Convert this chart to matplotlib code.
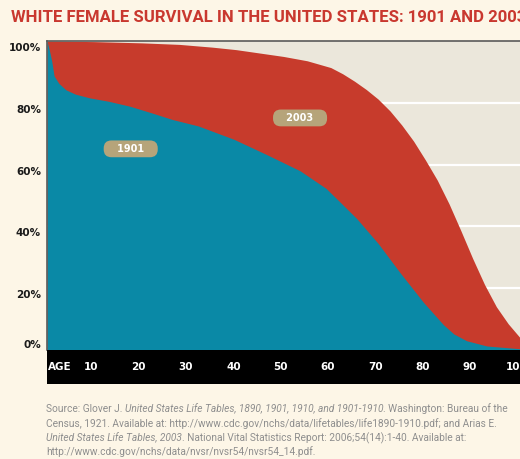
import matplotlib
matplotlib.use('Agg')
import matplotlib.pyplot as plt
from matplotlib.transforms import blended_transform_factory, ScaledTranslation

# ---------------- data ----------------
ages_1901 = [0, 0.5, 1, 1.5, 2.5, 4, 6, 9, 13, 17.5, 22, 26.5, 32, 39.5, 46.5, 53.5,
             59, 62, 65.5, 70, 74.6, 79.6, 83.8, 86, 88.7, 93, 100]
surv_1901 = [100, 97, 93.5, 88.7, 86.3, 84.2, 82.8, 81.6, 80.5, 78.9, 76.8, 74.6, 72.5, 68.2, 63.2, 58,
             52.3, 47.8, 42.5, 34.5, 25.1, 15.4, 8.2, 5.2, 3.0, 1.3, 0.4]

ages_2003 = [0, 10, 20, 28, 35, 40, 45, 50, 55, 60, 62.5, 65, 67.5, 70, 72.5, 75, 77.5, 80, 82.5,
             85, 87.5, 90, 92.5, 95, 97.5, 100]
surv_2003 = [100, 99.8, 99.4, 98.9, 98, 97.2, 96.1, 95, 93.6, 91.4, 89.4, 87, 84.3, 81.2, 77.4, 72.8,
             67.6, 61.5, 55, 47.3, 38.6, 29.6, 21.2, 14, 8.5, 4]

age_ticks = [10, 20, 30, 40, 50, 60, 70, 80, 90, 100]
pct_ticks = [0, 20, 40, 60, 80, 100]
pct_labels = ['0%', '20%', '40%', '60%', '80%', '100%']
grid_levels = [20, 40, 60, 80]
series_names = ['1901', '2003']
label_positions = [(17.7, 65.1), (53.5, 75.1)]

title = 'WHITE FEMALE SURVIVAL IN THE UNITED STATES: 1901 AND 2003'
source_lines = [
    [('Source: Glover J. ', 'normal'),
     ('United States Life Tables, 1890, 1901, 1910, and 1901-1910', 'italic'),
     ('. Washington: Bureau of the', 'normal')],
    [('Census, 1921. Available at: http://www.cdc.gov/nchs/data/lifetables/life1890-1910.pdf; and Arias E.', 'normal')],
    [('United States Life Tables, 2003', 'italic'),
     ('. National Vital Statistics Report: 2006;54(14):1-40. Available at:', 'normal')],
    [('http://www.cdc.gov/nchs/data/nvsr/nvsr54/nvsr54_14.pdf.', 'normal')],
]

# ---------------- style ----------------
W, H = 520, 459
FIG_BG = '#FDF6E7'
PLOT_BG = '#EBE7DB'
RED = '#C73B2C'
TEAL = '#0A89A6'
PILL = '#B6A47A'
TITLE_RED = '#C9382F'
GREY = '#8E8E8E'

fig = plt.figure(figsize=(W / 100, H / 100), dpi=100, facecolor=FIG_BG)

ax = fig.add_axes([47 / W, 1 - 350 / H, 473 / W, 309 / H])
ax.set_facecolor(PLOT_BG)
ax.set_xlim(0, 100)
ax.set_ylim(0, 100)

for g in grid_levels:
    ax.axhline(g, color='white', lw=1.6, zorder=0.5)

ax.fill_between(ages_2003, 0, surv_2003, color=RED, lw=0, zorder=1)
ax.fill_between(ages_1901, 0, surv_1901, color=TEAL, lw=0, zorder=2)

for sp in ['right', 'bottom']:
    ax.spines[sp].set_visible(False)
for sp in ['top', 'left']:
    ax.spines[sp].set_color('#5a5a5a')
    ax.spines[sp].set_linewidth(1.2)
    ax.spines[sp].set_zorder(5)

ax.set_xticks([])
ax.set_yticks(pct_ticks)
ax.set_yticklabels(pct_labels, fontsize=7.5, fontweight='bold', color='#1a1a1a')
ax.tick_params(axis='y', length=0, pad=4.3)
for lbl, v in zip(ax.get_yticklabels(), pct_ticks):
    dy = -6 / 100 if v > 0 else 6 / 100
    lbl.set_transform(lbl.get_transform() + ScaledTranslation(0, dy, fig.dpi_scale_trans))

for name, (xa, ya) in zip(series_names, label_positions):
    ax.text(xa, ya, '   ' + name + '   ', ha='center', va='center', color='white',
            fontsize=7, fontweight='bold', zorder=6,
            bbox=dict(boxstyle='round,pad=0.35,rounding_size=0.8', fc=PILL, ec='none'))

# black age band
band = fig.add_axes([47 / W, 1 - 384 / H, 473 / W, 34 / H])
band.set_facecolor('black')
band.set_xlim(0, 100)
band.set_ylim(0, 1)
band.set_xticks([])
band.set_yticks([])
for sp in band.spines.values():
    sp.set_visible(False)
btr = blended_transform_factory(band.transData, band.transAxes)
band.text(2.6, 0.5, 'AGE', transform=btr, ha='center', va='center', color='white',
          fontsize=7.5, fontweight='bold')
for a in age_ticks:
    band.text(a - 0.6, 0.5, str(a), transform=btr, ha='center', va='center', color='white',
              fontsize=7.5, fontweight='bold')

# title
fig.text(11 / W, 1 - 17.3 / H, title, ha='left', va='center', color=TITLE_RED,
         fontsize=12.1, fontweight='bold', family='Roboto')

# source text with mixed italics
renderer = fig.canvas.get_renderer()
SRC_SIZE = 7.25
SRC_FAMILY = 'Roboto'


def seg_width(txt, style):
    t1 = fig.text(0, 0, 'x' + txt + 'x', fontsize=SRC_SIZE, style=style, family=SRC_FAMILY)
    t2 = fig.text(0, 0, 'xx', fontsize=SRC_SIZE, style=style, family=SRC_FAMILY)
    w = t1.get_window_extent(renderer).width - t2.get_window_extent(renderer).width
    t1.remove()
    t2.remove()
    return w


baselines = [412.5, 426.8, 441.1, 455.4]
for yb, segs in zip(baselines, source_lines):
    xpx = 46
    for txt, style in segs:
        fig.text(xpx / W, 1 - yb / H, txt, ha='left', va='baseline', color=GREY,
                 fontsize=SRC_SIZE, style=style, family=SRC_FAMILY)
        xpx += seg_width(txt, style)

fig.savefig('out.png', dpi=100, facecolor=FIG_BG)
